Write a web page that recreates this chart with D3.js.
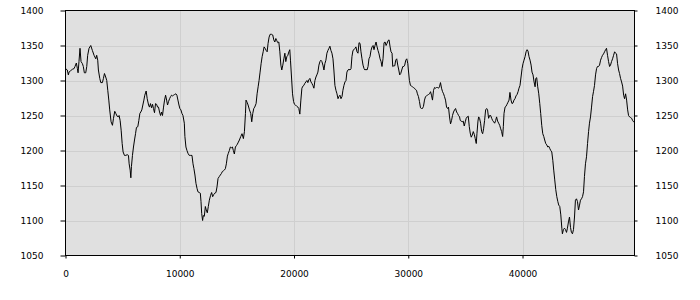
<!DOCTYPE html>
<html>
<head>
<meta charset="utf-8">
<script src="https://cdn.jsdelivr.net/npm/d3@7"></script>
<style>
  body { margin: 0; background: #fff; }
  text { font-family: "DejaVu Sans", Verdana, sans-serif; font-size: 9px; fill: #000; }
</style>
</head>
<body>
<div id="chart"></div>
<script>
// values, x in sample units
let times = [
  0,160,250,310,450,600,750,830,950,1040,1100,1180,1270,1360,1480,1560,1650,1770,1860,1940,
  2060,2210,2350,2500,2650,2730,2820,2880,3000,3090,3230,3320,3410,3520,3610,3700,3790,3870,3990,4110,
  4200,4310,4400,4520,4610,4690,4780,4870,4960,5040,5160,5280,5400,5510,5570,5660,5720,5770,5860,5950,
  6040,6130,6210,6330,6420,6510,6590,6680,6770,6860,6940,7060,7150,7270,7350,7440,7530,7620,7700,7790,
  7880,7970,8060,8140,8230,8320,8410,8490,8580,8670,8760,8850,8930,9020,9110,9200,9280,9370,9460,9550,
  9660,9750,9840,9930,10010,10100,10190,10280,10400,10450,10540,10630,10720,10830,10950,11070,11160,11240,11330,11420,
  11510,11590,11710,11800,11860,11920,12000,12060,12150,12240,12320,12410,12500,12590,12700,12790,12880,12970,13060,13170,
  13260,13350,13470,13550,13640,13730,13820,13900,13990,14080,14170,14250,14340,14430,14520,14610,14690,14780,14870,14960,
  15040,15130,15220,
  15340,15450,15570,15660,15750,15800,15890,15980,16100,16210,16300,16390,16480,16560,16680,16770,16860,16940,17030,17120,
  17210,17300,17380,17470,17560,17650,17730,17820,17910,18030,18140,18230,18320,18410,18490,18580,18670,18760,18850,18930,
  19020,19110,19200,19280,19370,19460,19550,19630,19690,19780,19870,19960,20040,20130,20250,20340,20420,20510,20600,20690,
  20780,20860,20950,21040,21130,21210,21300,21390,21480,21560,21650,21740,21830,21920,22000,22090,22180,22270,22350,22440,
  22530,22620,22700,22790,22880,22970,23060,23140,23230,23320,23410,23490,23580,23670,23760,23850,23930,24020,24110,24200,
  24280,24370,24460,24550,24630,24720,24810,24900,24990,25070,25160,25250,25340,25420,25510,25600,25690,25780,25860,25950,
  26040,26130,26210,26300,26390,26480,26560,26650,26740,26830,26920,27000,27090,27180,27270,27350,27440,27530,27620,27700,
  27790,27880,27970,28060,28140,28230,28320,28410,28490,28580,28640,28730,28820,28900,28990,29080,29170,29250,29340,29430,
  29520,29610,29690,29780,29870,29960,30010,30100,30190,30280,30370,30450,30540,30630,30720,30800,30890,30980,31070,31160,
  31240,31330,31420,31510,31590,31680,31770,31860,31950,32030,32120,32210,32300,32380,32470,32560,32650,32730,32820,32910,
  33000,33090,33170,33260,33350,33440,33520,33610,33700,33790,33870,33960,34050,34140,34230,34310,34400,34490,
  34550,34630,34720,34810,34900,34990,35070,35160,35250,35340,35420,35510,35600,35690,35780,35860,35950,36010,36100,36160,
  36240,36330,36420,36510,36590,36680,36770,36860,36940,37030,37120,37210,37300,37380,37470,37560,37650,37730,37820,37910,
  38000,38090,38170,38260,38320,38380,38470,38550,38640,38730,38820,38900,38990,39080,39170,39250,39340,39430,39520,39610,
  39690,39780,39870,39960,40040,40130,40220,40310,40400,40480,40570,40660,40750,40830,40920,41010,41100,41160,41240,41330,
  41420,41510,41590,41680,41770,41860,41940,42030,42120,42210,42300,42380,42470,42560,42650,42730,42820,42910,43000,43090,
  43170,43260,43350,43440,43490,43580,43670,43760,43850,43930,44020,44110,44200,44280,44370,44460,44550,44630,44720,44810,
  44900,44990,45070,45160,45250,45340,45420,45510,45600,45690,45780,45860,45950,46040,46130,46210,46300,46390,46480,46560,
  46650,46740,46830,46920,47000,47090,47180,47270,47350,47440,47530,47620,47700,47790,47880,47970,48060,48140,48230,48320,
  48410,48490,48580,48670,48760,48850,48930,49020,49110,49200,49280,49370,49460,49550,49630,49720,49800
]
let prices = [
  1317,1315,1308,1312,1314,1316,1317,1320,1325,1317,1311,1327,1346,1327,1324,1320,1311,1311,1320,1336,
  1346,1350,1343,1336,1331,1336,1329,1315,1303,1297,1297,1303,1310,1305,1300,1286,1272,1258,1241,1236,
  1246,1256,1253,1249,1248,1250,1243,1229,1210,1198,1193,1193,1194,1193,1181,1172,1161,1177,1193,1205,
  1215,1224,1233,1234,1243,1253,1255,1258,1265,1272,1279,1285,1274,1265,1262,1267,1261,1266,1260,1254,
  1267,1266,1262,1262,1255,1250,1255,1250,1262,1272,1279,1272,1265,1270,1274,1277,1279,1278,1279,1280,
  1281,1279,1272,1265,1260,1258,1253,1250,1239,1220,1205,1200,1196,1193,1193,1193,1181,1174,1165,1153,
  1146,1141,1140,1139,1127,1110,1100,1107,1106,1120,1115,1111,1120,1129,1136,1140,1134,1137,1139,1140,
  1148,1160,1163,1165,1167,1170,1171,1172,1174,1181,1192,1196,1200,1205,1204,1205,1200,1195,1205,1207,
  1209,1212,1215,
  1220,1224,1217,1227,1253,1272,1269,1265,1258,1253,1241,1253,1260,1262,1267,1281,1291,1300,1312,1324,
  1334,1341,1348,1346,1343,1341,1353,1362,1366,1366,1365,1358,1355,1360,1357,1354,1355,1341,1322,1315,
  1322,1331,1339,1327,1334,1336,1341,1344,1329,1305,1281,1270,1266,1265,1263,1262,1260,1252,1272,1289,
  1292,1293,1296,1298,1300,1297,1301,1303,1298,1296,1293,1289,1300,1305,1308,1312,1322,1327,1329,1327,
  1322,1315,1324,1329,1339,1343,1346,1349,1343,1339,1331,1315,1293,1286,1281,1274,1277,1279,1274,1277,
  1286,1293,1298,1300,1312,1315,1316,1315,1317,1334,1343,1344,1346,1348,1341,1339,1354,1353,1341,1331,
  1322,1317,1315,1316,1315,1320,1331,1334,1343,1348,1350,1344,1350,1355,1348,1343,1338,1331,1327,1320,
  1331,1354,1355,1350,1353,1357,1358,1348,1341,1339,1320,1321,1321,1329,1331,1322,1315,1308,1310,1315,
  1320,1320,1322,1329,1331,1324,1315,1300,1293,1292,1291,1290,1289,1287,1286,1281,1277,1270,1261,1260,
  1260,1263,1272,1277,1278,1279,1280,1281,1284,1279,1272,1286,1290,1289,1290,1290,1289,1291,1297,1289,
  1284,1281,1277,1272,1262,1260,1262,1248,1238,1243,1250,1255,1258,1260,1255,1253,1250,1248,
  1243,1242,1241,1242,1235,1241,1246,1248,1249,1234,1225,1219,1222,1227,1223,1217,1210,1224,1242,1248,
  1246,1239,1227,1224,1231,1243,1258,1260,1258,1246,1250,1250,1246,1243,1241,1239,1243,1248,1242,1239,
  1236,1231,1227,1220,1234,1253,1262,1263,1266,1269,1272,1283,1272,1267,1268,1272,1274,1278,1280,1284,
  1289,1293,1305,1317,1324,1329,1334,1341,1344,1342,1334,1329,1322,1312,1308,1298,1291,1303,1304,1291,
  1281,1267,1253,1236,1224,1220,1215,1210,1208,1205,1206,1203,1200,1198,1186,1172,1158,1144,1134,1127,
  1122,1120,1108,1089,1081,1087,1089,1087,1083,1089,1098,1105,1090,1083,1081,1087,1105,1129,1131,1127,
  1115,1122,1129,1131,1134,1141,1163,1181,1191,1210,1227,1239,1248,1262,1277,1284,1293,1308,1317,1320,
  1320,1322,1329,1333,1336,1338,1341,1344,1346,1336,1327,1320,1322,1327,1331,1336,1341,1339,1338,1324,
  1315,1310,1303,1298,1292,1279,1274,1281,1272,1258,1250,1248,1247,1246,1243,1241,1240
]
let yTicks = [1050, 1100, 1150, 1200, 1250, 1300, 1350, 1400]
let xTicks = [0, 10000, 20000, 30000, 40000]

let W = 700, H = 300
let plotL = 65.5, plotR = 634.5, plotT = 10.5, plotB = 255.5

let svg = d3.select("#chart").append("svg")
  .attr("width", W)
  .attr("height", H)

let x = d3.scaleLinear().domain([0, 49800]).range([plotL, plotR])
let y = d3.scaleLinear().domain([1050, 1400]).range([plotB, plotT])

svg.append("rect")
  .attr("x", plotL).attr("y", plotT)
  .attr("width", plotR - plotL).attr("height", plotB - plotT)
  .attr("fill", "#e0e0e0")

// grid
svg.append("g").selectAll("line")
  .data(yTicks.slice(1, -1))
  .enter().append("line")
  .attr("x1", plotL).attr("x2", plotR)
  .attr("y1", d => Math.round(y(d)) + 0.5).attr("y2", d => Math.round(y(d)) + 0.5)
  .attr("stroke", "#cfcfcf")
svg.append("g").selectAll("line")
  .data(xTicks.slice(1))
  .enter().append("line")
  .attr("x1", d => Math.round(x(d)) + 0.5).attr("x2", d => Math.round(x(d)) + 0.5)
  .attr("y1", plotT).attr("y2", plotB)
  .attr("stroke", "#cfcfcf")

let series = d3.zip(times, prices)

let line = d3.line()
  .x(d => x(d[0]))
  .y(d => y(d[1]))

svg.append("path")
  .datum(series)
  .attr("d", line)
  .attr("fill", "none")
  .attr("stroke", "#000")
  .attr("stroke-width", 1)

// frame
svg.append("rect")
  .attr("x", plotL).attr("y", plotT)
  .attr("width", plotR - plotL).attr("height", plotB - plotT)
  .attr("fill", "none")
  .attr("stroke", "#000")

let fmt = d3.format("d")
let yl = d3.axisLeft(y).tickValues(yTicks).tickSize(5).tickPadding(17).tickFormat(fmt)
let yr = d3.axisRight(y).tickValues(yTicks).tickSize(3).tickPadding(18).tickFormat(fmt)
let xb = d3.axisBottom(x).tickValues(xTicks).tickSize(3).tickPadding(12).tickFormat(fmt)

function style(g) {
  g.select(".domain").remove()
  g.attr("font-size", null).attr("font-family", null)
}
svg.append("g").attr("transform", `translate(${plotL},0)`).call(yl).call(style)
svg.append("g").attr("transform", `translate(${plotR},0)`).call(yr).call(style)
svg.append("g").attr("transform", `translate(0,${plotB})`).call(xb).call(style)
</script>
</body>
</html>
